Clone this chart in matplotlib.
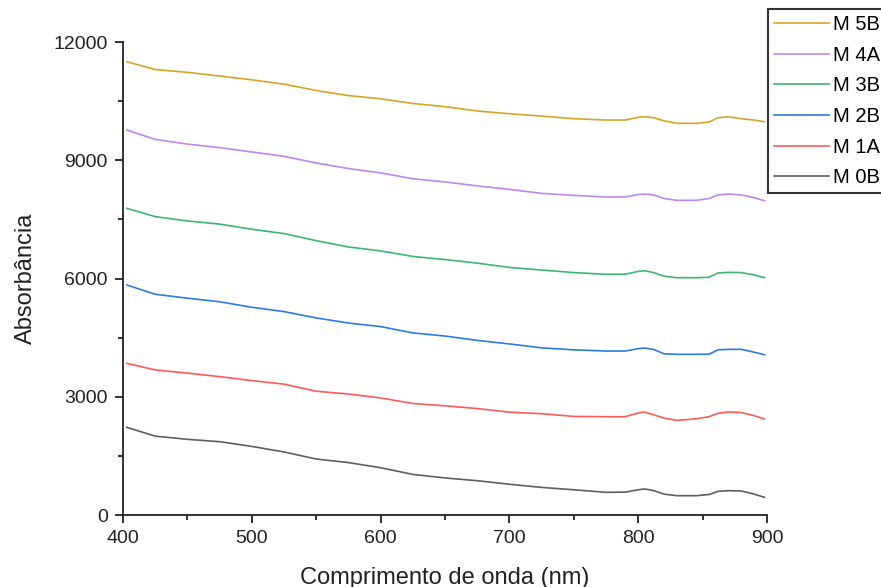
import matplotlib
matplotlib.use("Agg")
import matplotlib.pyplot as plt
from matplotlib.ticker import MultipleLocator

plt.rcParams['font.family'] = ['Liberation Sans', 'DejaVu Sans']

wavelength = [403, 425, 450, 475, 500, 525, 550, 575, 600, 625, 650, 675, 700, 725, 750,
              775, 790, 800, 805, 812, 820, 830, 845, 855, 862, 870, 880, 890, 898]

m5b = [11500, 11300, 11230, 11136, 11040, 10930, 10770, 10640, 10560, 10440, 10360, 10250,
       10180, 10120, 10054, 10020, 10020, 10090, 10104, 10080, 10000, 9936, 9936, 9970,
       10080, 10100, 10054, 10020, 9975]
m4a = [9766, 9530, 9410, 9320, 9210, 9100, 8930, 8790, 8680, 8530, 8450, 8350, 8260, 8160,
       8110, 8067, 8070, 8130, 8143, 8120, 8030, 7983, 7983, 8030, 8120, 8143, 8120, 8050, 7975]
m3b = [7780, 7570, 7460, 7380, 7250, 7140, 6960, 6800, 6700, 6560, 6480, 6390, 6280, 6215,
       6150, 6106, 6110, 6180, 6198, 6150, 6060, 6020, 6020, 6030, 6140, 6156, 6150, 6090, 6020]
m2b = [5835, 5600, 5500, 5410, 5270, 5160, 5000, 4870, 4780, 4620, 4540, 4430, 4340, 4240,
       4190, 4160, 4160, 4220, 4236, 4200, 4090, 4076, 4076, 4080, 4190, 4203, 4203, 4130, 4067]
m1a = [3848, 3680, 3600, 3510, 3410, 3320, 3140, 3070, 2970, 2830, 2770, 2700, 2610, 2570,
       2500, 2494, 2494, 2590, 2613, 2540, 2460, 2400, 2440, 2494, 2580, 2613, 2600, 2520, 2435]
m0b = [2224, 2000, 1920, 1860, 1740, 1600, 1420, 1330, 1200, 1030, 940, 870, 780, 700,
       640, 575, 580, 640, 660, 620, 530, 490, 490, 520, 600, 617, 610, 530, 449]

series_names = ["M 5B", "M 4A", "M 3B", "M 2B", "M 1A", "M 0B"]
series_values = [m5b, m4a, m3b, m2b, m1a, m0b]
colors = ["#D4A528", "#BF86EE", "#3DB672", "#2C7BE5", "#FF5A5A", "#5F5F5F"]

fig = plt.figure(figsize=(8.81, 5.87), dpi=100)
ax = fig.add_axes([123/881, 1-515/587, (767-123)/881, (515-42)/587])

handles = []
for name, vals, c in zip(series_names, series_values, colors):
    h, = ax.plot(wavelength, vals, color=c, lw=1.2, label=name)
    handles.append(h)

ax.set_xlim(400, 900)
ax.set_ylim(0, 12000)
ax.xaxis.set_major_locator(MultipleLocator(100))
ax.xaxis.set_minor_locator(MultipleLocator(50))
ax.yaxis.set_major_locator(MultipleLocator(3000))
ax.yaxis.set_minor_locator(MultipleLocator(1500))
ax.tick_params(which='major', direction='out', length=6, width=1.3, labelsize=14,
               colors='#222222', pad=5)
ax.tick_params(which='minor', direction='out', length=3.5, width=1.3, colors='#222222')
ax.spines['top'].set_visible(False)
ax.spines['right'].set_visible(False)
for s in ('left', 'bottom'):
    ax.spines[s].set_linewidth(1.3)
    ax.spines[s].set_color('#222222')

ax.set_xlabel("Comprimento de onda (nm)", fontsize=17, color='#222222', labelpad=14)
ax.set_ylabel("Absorbância", fontsize=17, color='#222222', labelpad=12)

leg = fig.legend(handles=handles, loc='upper left', bbox_to_anchor=(768/881, 1-9/587),
                 bbox_transform=fig.transFigure, fontsize=14.5, frameon=True, fancybox=False,
                 handlelength=2.75, handletextpad=0.2, labelspacing=0.58, borderpad=0.3,
                 borderaxespad=0)
leg.get_frame().set_edgecolor('black')
leg.get_frame().set_linewidth(1.5)

fig.savefig("out.png", dpi=100)
